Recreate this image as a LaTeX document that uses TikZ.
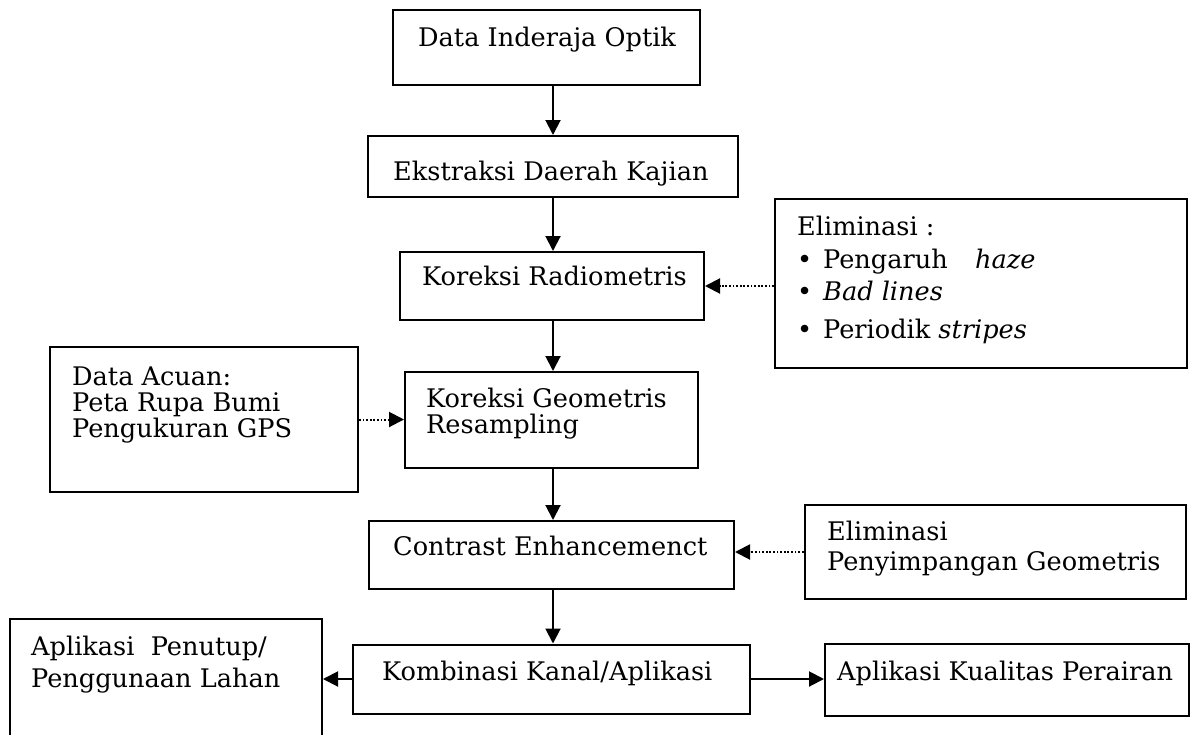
\documentclass[tikz,border=0pt]{standalone}
\usepackage{fontspec}
\setmainfont{DejaVu Serif}
\usetikzlibrary{arrows.meta}
\begin{document}
\begin{tikzpicture}[x=1pt,y=-1pt,
  box/.style={draw, line width=2pt, inner sep=0pt},
  txt/.style={anchor=base west, inner sep=0pt, font=\fontsize{25.6}{30}\selectfont},
  flow/.style={-{Triangle[length=15pt,width=15pt]}, line width=2pt},
  aux/.style={-{Triangle[length=15pt,width=15pt]}, line width=2pt, dash pattern=on 1.8pt off 1.8pt}]
\useasboundingbox (0,0) rectangle (1194,734);
\coordinate (axis) at (553,0);
% boxes
\node[box, minimum width=307pt, minimum height=75pt] (b1) at (546.5,47.5) {};
\node[box, minimum width=370pt, minimum height=61pt] (b2) at (553,166.5) {};
\node[box, minimum width=304pt, minimum height=68pt] (b3) at (552,286) {};
\node[box, minimum width=412pt, minimum height=169pt] (e1) at (981,283.5) {};
\node[box, minimum width=293pt, minimum height=96pt] (b4) at (551.5,420) {};
\node[box, minimum width=308pt, minimum height=145pt] (acuan) at (204,419.5) {};
\node[box, minimum width=365pt, minimum height=68pt] (b5) at (551.5,555) {};
\node[box, minimum width=381pt, minimum height=94pt] (e2) at (995,552) {};
\node[box, minimum width=397pt, minimum height=69pt] (b6) at (551.5,679) {};
\node[box, minimum width=312pt, minimum height=131pt] (lahan) at (166,684.5) {};
\node[box, minimum width=364pt, minimum height=72pt] (kual) at (1007,680) {};
% texts
\node[txt] (t1) at (418,46) {Data Inderaja Optik};
\node[txt] (t2) at (393,180) {Ekstraksi Daerah Kajian};
\node[txt] (t3) at (422,285) {Koreksi Radiometris};
\node[txt] (e1a) at (797,235) {Eliminasi :};
\node[txt] (e1b) at (797,268) {•};
\node[txt] (e1c) at (823,268) {Pengaruh};
\node[txt] (e1d) at (975,268) {\itshape haze};
\node[txt] (e1e) at (797,300) {•};
\node[txt] (e1f) at (823,300) {\itshape Bad lines};
\node[txt] (e1g) at (797,338) {•};
\node[txt] (e1h) at (823,338) {Periodik \itshape stripes};
\node[txt] (a1) at (72,385) {Data Acuan:};
\node[txt] (a2) at (72,411) {Peta Rupa Bumi};
\node[txt] (a3) at (72,437) {Pengukuran GPS};
\node[txt] (t4a) at (426,407) {Koreksi Geometris};
\node[txt] (t4b) at (426,433) {Resampling};
\node[txt] (t5) at (393,555) {Contrast Enhancemenct};
\node[txt] (e2a) at (827,540) {Eliminasi};
\node[txt] (e2b) at (827,570) {Penyimpangan Geometris};
\node[txt] (t6) at (382,680) {Kombinasi Kanal/Aplikasi};
\node[txt] (l1) at (31,655) {Aplikasi\ \ Penutup/};
\node[txt] (l2) at (31,687) {Penggunaan Lahan};
\node[txt] (k1) at (837,680) {Aplikasi Kualitas Perairan};
% connectors
\draw[flow] (b1.south -| axis) -- (b2.north -| axis);
\draw[flow] (b2.south -| axis) -- (b3.north -| axis);
\draw[flow] (b3.south -| axis) -- (b4.north -| axis);
\draw[flow] (b4.south -| axis) -- (b5.north -| axis);
\draw[flow] (b5.south -| axis) -- (b6.north -| axis);
\draw[aux] (e1.west |- b3.east) -- (b3.east);
\draw[aux] (acuan.east) -- (b4.west |- acuan.east);
\draw[aux] (e2.west) -- (b5.east |- e2.west);
\draw[flow] (b6.west) -- (lahan.east |- b6.west);
\draw[flow] (b6.east) -- (kual.west |- b6.east);
\end{tikzpicture}
\end{document}
